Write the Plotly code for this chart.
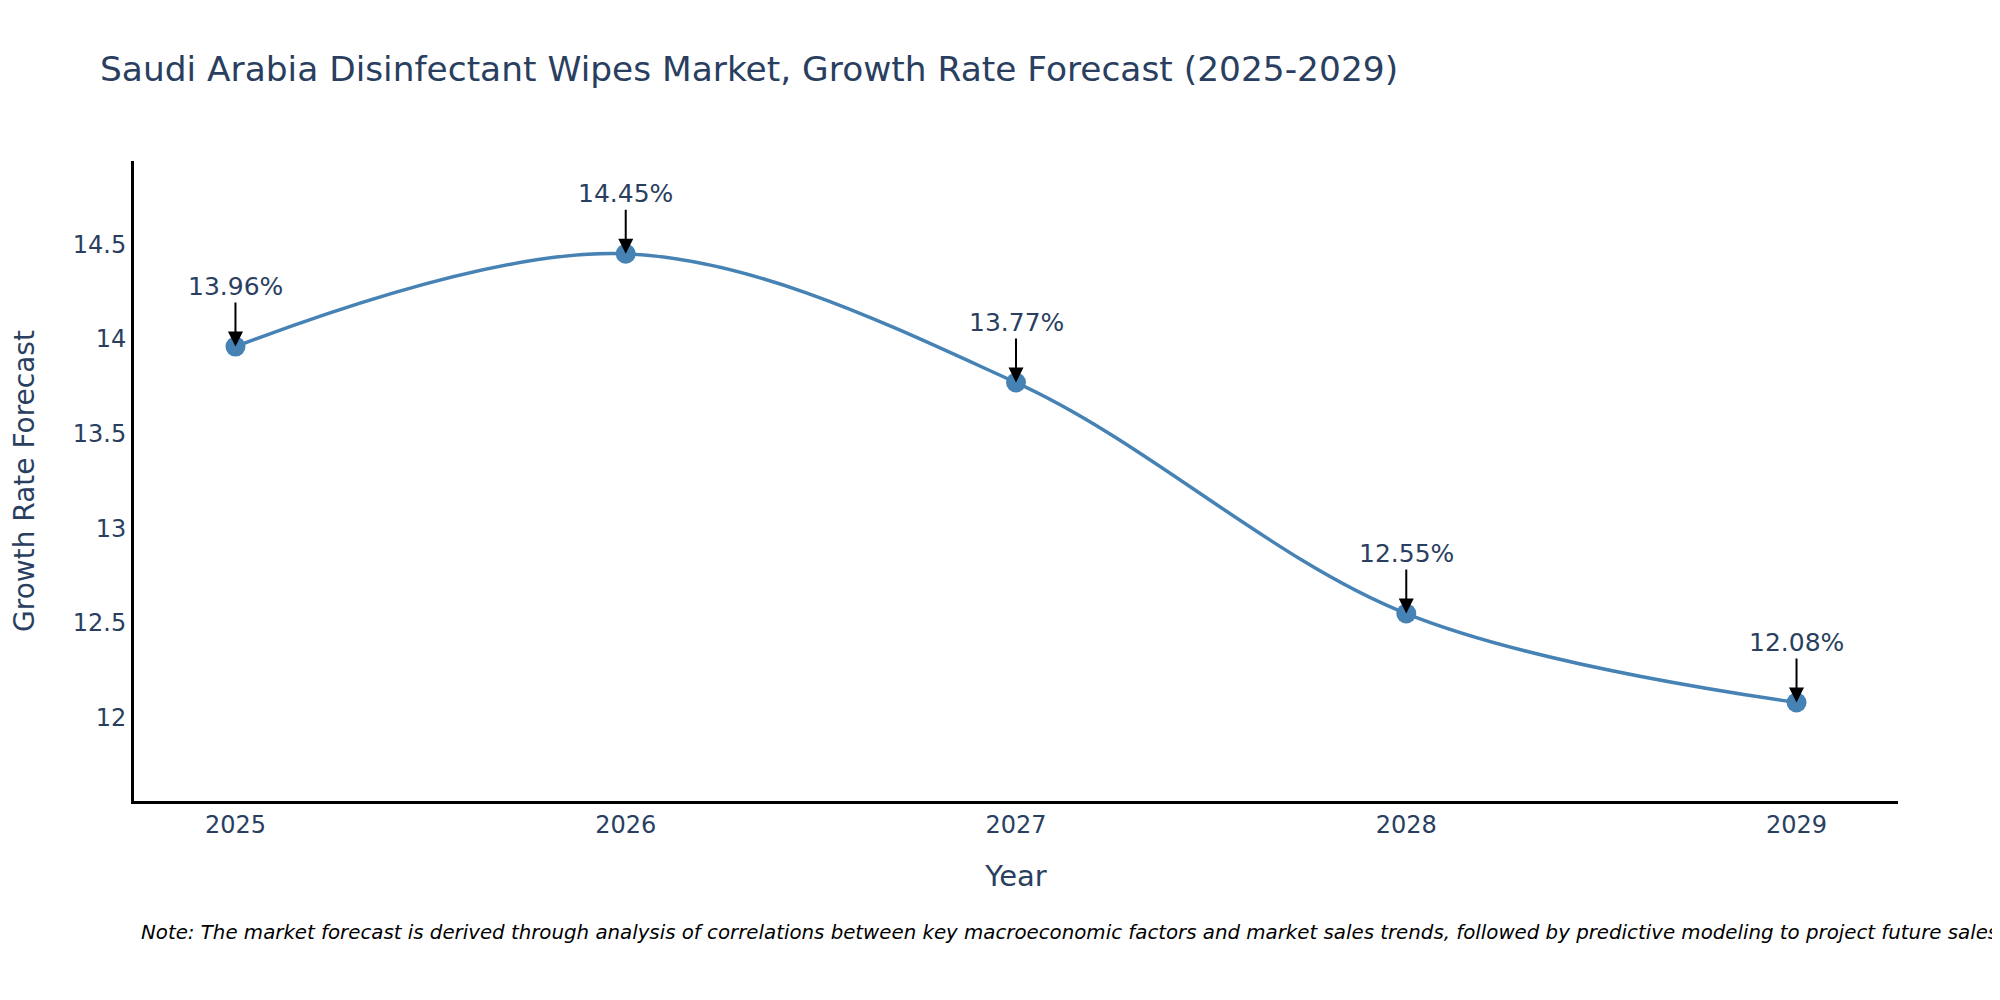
import plotly.graph_objects as go

# values
years = [2025, 2026, 2027, 2028, 2029]
growth = [13.96, 14.45, 13.77, 12.55, 12.08]
labels = ["13.96%", "14.45%", "13.77%", "12.55%", "12.08%"]

title_text = "Saudi Arabia Disinfectant Wipes Market, Growth Rate Forecast (2025-2029)"
note_text = ("Note: The market forecast is derived through analysis of correlations between key "
             "macroeconomic factors and market sales trends, followed by predictive modeling to "
             "project future sales.")

font_family = "Verdana, DejaVu Sans, sans-serif"
line_color = "#4682B4"

trace = go.Scatter(
    x=years, y=growth,
    mode="lines+markers",
    line=dict(color=line_color, width=3.5, shape="spline"),
    marker=dict(color=line_color, size=20),
    showlegend=False,
)

annotations = []
for x, y, lab in zip(years, growth, labels):
    annotations.append(dict(
        x=x, y=y, xref="x", yref="y",
        text=lab, showarrow=True,
        arrowhead=2, arrowsize=1.5, arrowwidth=2, arrowcolor="black",
        ax=0, ay=-60,
        font=dict(size=25, family=font_family, color="#2a3f5f"),
    ))

annotations.append(dict(
    x=0.003, y=-0.206, xref="paper", yref="paper",
    xanchor="left", yanchor="middle",
    text="<i>" + note_text + "</i>", showarrow=False,
    font=dict(size=19.8, family=font_family, color="black"),
))

layout = go.Layout(
    width=2000, height=1000,
    title=dict(text=title_text, x=0.046, xanchor="left",
               y=0.9395, yanchor="middle",
               font=dict(size=34.4, family=font_family, color="#2a3f5f")),
    font=dict(family=font_family, color="#2a3f5f"),
    plot_bgcolor="white", paper_bgcolor="white",
    margin=dict(l=126, r=110, t=153, b=207),
    xaxis=dict(
        title=dict(text="Year", font=dict(size=29), standoff=28),
        tickvals=years, ticktext=[str(y) for y in years],
        range=[2024.74, 2029.26],
        showgrid=False, zeroline=False,
        showline=True, linecolor="black", linewidth=3,
        tickfont=dict(size=24),
        automargin=False,
    ),
    yaxis=dict(
        title=dict(text="Growth Rate Forecast", font=dict(size=28), standoff=40),
        range=[11.56, 14.94],
        dtick=0.5,
        showgrid=False, zeroline=False,
        showline=True, linecolor="black", linewidth=3,
        tickfont=dict(size=24),
        automargin=False,
    ),
    annotations=annotations,
)

fig = go.Figure(data=[trace], layout=layout)
fig.write_html("out.html")
